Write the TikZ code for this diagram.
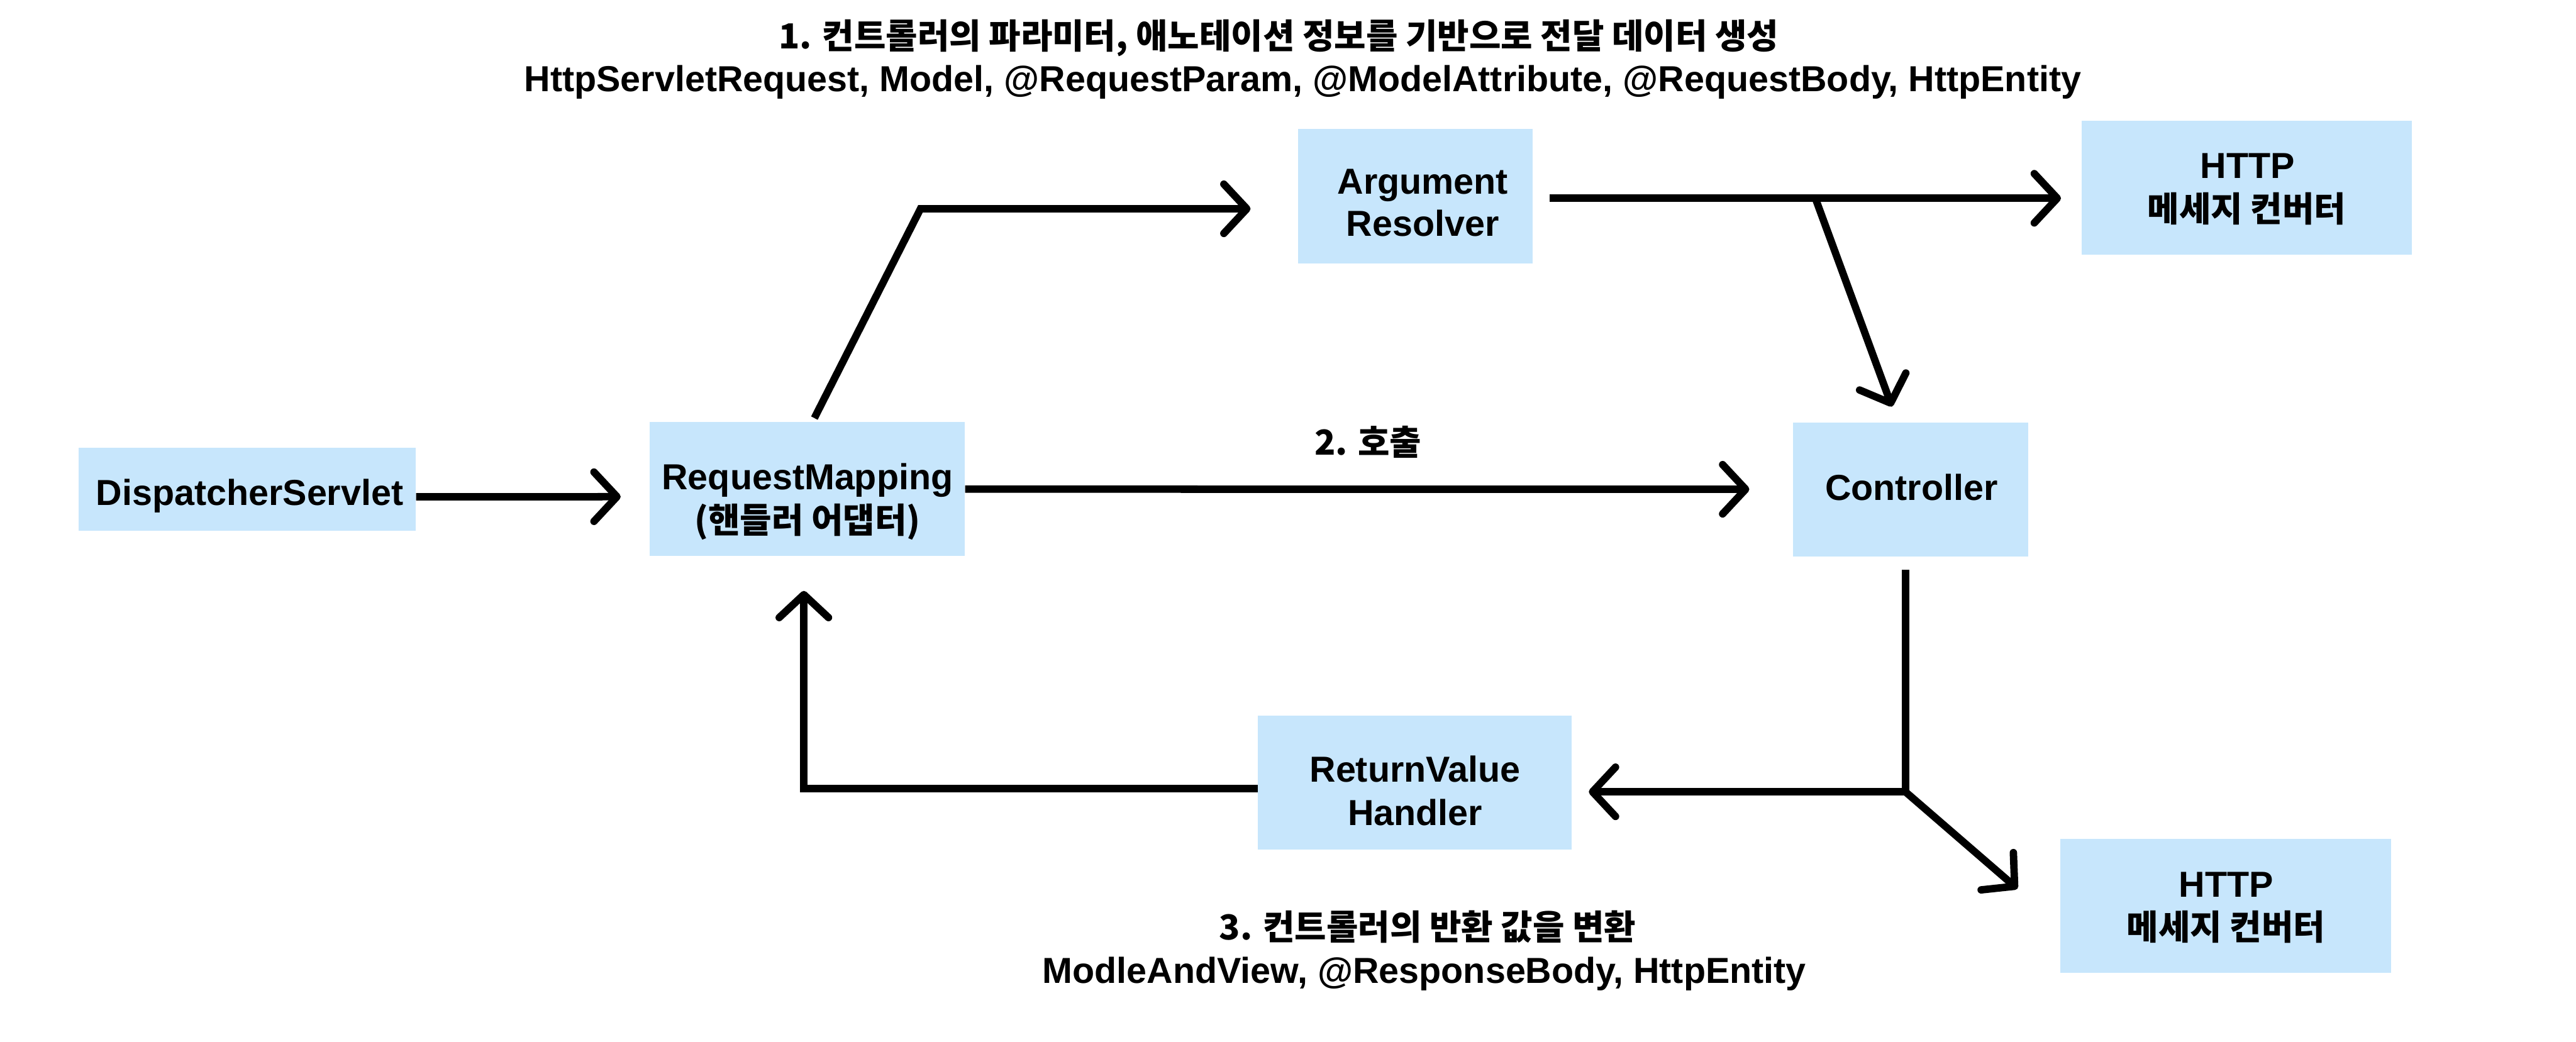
\documentclass[tikz,border=0pt]{standalone}
\usepackage{fontspec}
\setmainfont{Liberation Sans}
\newfontfamily\kr{Noto Sans CJK KR}
\usetikzlibrary{arrows.meta}
\definecolor{boxblue}{HTML}{C7E6FC}
\begin{document}
\begin{tikzpicture}[x=1pt,y=-1pt,
  lat/.style={font=\fontsize{22}{26}\selectfont\bfseries, inner sep=0pt, anchor=base},
  kor/.style={font=\fontsize{21}{26}\selectfont\kr\bfseries, inner sep=0pt, anchor=base},
  box/.style={fill=boxblue, draw=none, inner sep=0pt},
  conn/.style={line width=4.5pt, -{Straight Barb[length=14pt,width=30pt,line cap=round,line join=round]}},
  plain/.style={line width=4.5pt}]
\useasboundingbox[fill=white] (0,0) rectangle (1568,634);

% boxes
\node[box, minimum width=205.3pt, minimum height=50.7pt] (disp) at (150.45,297.85) {};
\node[box, minimum width=191.9pt, minimum height=81.5pt] (rm) at (491.35,297.75) {};
\node[box, minimum width=143.1pt, minimum height=81.8pt] (ar) at (861.5,119.5) {};
\node[box, minimum width=201pt, minimum height=81.5pt] (h1) at (1367.5,114.25) {};
\node[box, minimum width=142.9pt, minimum height=81.5pt] (ctrl) at (1162.95,297.85) {};
\node[box, minimum width=191.1pt, minimum height=81.5pt] (rvh) at (861.25,476.25) {};
\node[box, minimum width=201.4pt, minimum height=81.5pt] (h2) at (1354.9,551.55) {};

% box texts
\node[lat] (disp-t) at (152,307.7) {DispatcherServlet};
\node[lat] (rm-t1) at (491.5,298) {RequestMapping};
\node[kor] (rm-t2) at (491.5,324.3) {(핸들러 어댑터)};
\node[lat] (ar-t1) at (866,118) {Argument};
\node[lat] (ar-t2) at (866,143.8) {Resolver};
\node[lat] (h1-t1) at (1368,108.6) {HTTP};
\node[kor] (h1-t2) at (1367.5,134.9) {메세지 컨버터};
\node[lat] (ctrl-t) at (1163.5,304.7) {Controller};
\node[lat] (rvh-t1) at (861.4,476.2) {ReturnValue};
\node[lat] (rvh-t2) at (861.4,502.3) {Handler};
\node[lat] (h2-t1) at (1355,545.9) {HTTP};
\node[kor] (h2-t2) at (1354.9,572.2) {메세지 컨버터};

% free labels
\node[kor] (t1) at (778.3,29.7) {1. 컨트롤러의 파라미터, 애노테이션 정보를 기반으로 전달 데이터 생성};
\node[lat] (t2) at (793,55.8) {HttpServletRequest, Model, @RequestParam, @ModelAttribute, @RequestBody, HttpEntity};
\node[kor] (call) at (832.7,277) {2. 호출};
\node[kor] (b1) at (869,572.2) {3. 컨트롤러의 반환 값을 변환};
\node[lat] (b2) at (867,598.4) {ModleAndView, @ResponseBody, HttpEntity};

% connector points
\coordinate (a2s) at (495.7,254.5);
\coordinate (a2c) at (560.3,127.1);
\coordinate (a2e) at (761.2,127.1);
\coordinate (a3s) at (943.4,120.7);
\coordinate (br) at (1105,120.7);
\coordinate (a3e) at (1254.5,120.7);
\coordinate (a4e) at (1151.6,247.5);
\coordinate (a6s) at (1159.8,346.9);
\coordinate (jn) at (1159.8,482);
\coordinate (a7e) at (967.1,482);
\coordinate (a8e) at (1228,541);
\coordinate (a9s) at (765.7,480);
\coordinate (a9e) at (489.3,359.7);

% connectors
\draw[conn, shorten >=17.4pt] ([yshift=-4.6pt]disp.east) -- ([yshift=-4.6pt]rm.west);
\draw[conn] (a2s) -- (a2c) -- (a2e);
\draw[conn] (a3s) -- (a3e);
\draw[conn] (br) -- (a4e);
\draw[conn, shorten >=26.5pt] (rm.east) -- (ctrl.west);
\draw[conn] (a6s) -- (jn) -- (a7e);
\draw[conn] (jn) -- (a8e);
\draw[conn] (a9s) -| (a9e);
\end{tikzpicture}
\end{document}
